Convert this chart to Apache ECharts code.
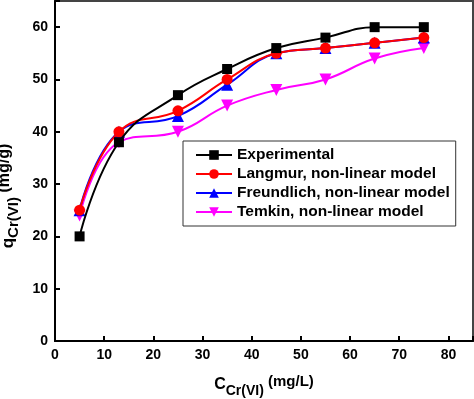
<!DOCTYPE html>
<html><head><meta charset="utf-8">
<script src="https://cdn.jsdelivr.net/npm/echarts@6/dist/echarts.min.js"></script>
<style>html,body{margin:0;padding:0;background:#fff}#c{width:474px;height:399px}</style>
</head><body><div id="c"></div>
<script>
const xValues = [5, 13, 25, 35, 45, 55, 65, 75];
const experimental = [20, 38, 47, 52, 56, 58, 60, 60];
const langmuir = [25, 40, 44, 50, 55, 56, 57, 58];
const freundlich = [25, 40, 43, 49, 55, 56, 57, 58];
const temkin = [24, 38, 40, 45, 48, 50, 54, 56];
const seriesNames = ['Experimental', 'Langmur, non-linear model', 'Freundlich, non-linear model', 'Temkin, non-linear model'];
const colors = ['#000000', '#ff0000', '#0000ff', '#ff00ff'];
const symbols = ['rect', 'circle', 'triangle', 'path://M0,0 L10,0 L5,9 Z'];
const sizes = [10, 11, 12, 12];
const allData = [experimental, langmuir, freundlich, temkin];
const font = 'Arial, "Liberation Sans", sans-serif';

const chart = echarts.init(document.getElementById('c'));
chart.setOption({
  animation: false,
  grid: {left: 55, right: 1, top: 1, bottom: 58, show: true, borderColor: '#444', borderWidth: 2,
    containLabel: false, outerBoundsMode: 'none'},
  legend: {
    left: 183, top: 141, orient: 'vertical', itemGap: 3, itemWidth: 36, itemHeight: 12,
    borderColor: '#333', borderWidth: 1, padding: [6, 6, 6, 12],
    textStyle: {fontFamily: font, fontWeight: 'bold', fontSize: 15.5, color: '#000'},
    data: seriesNames
  },
  xAxis: {
    type: 'value', min: 0, max: 85, interval: 10,
    axisLine: {lineStyle: {color: '#000', width: 2}},
    axisTick: {inside: true, length: 5, lineStyle: {width: 2, color: '#000'}},
    splitLine: {show: false},
    axisLabel: {fontFamily: font, fontWeight: 'bold', fontSize: 14, color: '#000', margin: 7,
      formatter: v => v > 80 ? '' : v},
    name: '{b|C}{s|Cr(VI)}{a| (mg/L)}', nameLocation: 'middle', nameGap: 31,
    nameTextStyle: {rich: {
      b: {fontFamily: font, fontWeight: 'bold', fontSize: 16, color: '#000'},
      s: {fontFamily: font, fontWeight: 'bold', fontSize: 14, color: '#000', padding: [12, 0, 0, 0]},
      a: {fontFamily: font, fontWeight: 'bold', fontSize: 15, color: '#000', padding: [0, 0, 6, 0]}
    }}
  },
  yAxis: {
    type: 'value', min: 0, max: 65, interval: 10,
    axisLine: {lineStyle: {color: '#000', width: 2}},
    axisTick: {inside: true, length: 5, lineStyle: {width: 2, color: '#000'}},
    splitLine: {show: false},
    axisLabel: {fontFamily: font, fontWeight: 'bold', fontSize: 14, color: '#000', margin: 7,
      formatter: v => v > 60 ? '' : v},
    name: '{b|q}{s|Cr(VI)}{a| (mg/g)}', nameLocation: 'middle', nameGap: 32,
    nameTextStyle: {padding: [0, 50, 0, 0], rich: {
      b: {fontFamily: font, fontWeight: 'bold', fontSize: 17, color: '#000'},
      s: {fontFamily: font, fontWeight: 'bold', fontSize: 15, color: '#000', padding: [12, 0, 0, 0]},
      a: {fontFamily: font, fontWeight: 'bold', fontSize: 16, color: '#000', padding: [0, 0, 6, 0]}
    }}
  },
  series: allData.map((d, i) => ({
    name: seriesNames[i], type: 'line', smooth: 0.45,
    data: xValues.map((x, j) => [x, d[j]]),
    symbol: symbols[i], symbolSize: sizes[i],
    itemStyle: {color: colors[i]},
    lineStyle: {color: colors[i], width: 2},
    z: 10 - i
  }))
});
</script></body></html>
